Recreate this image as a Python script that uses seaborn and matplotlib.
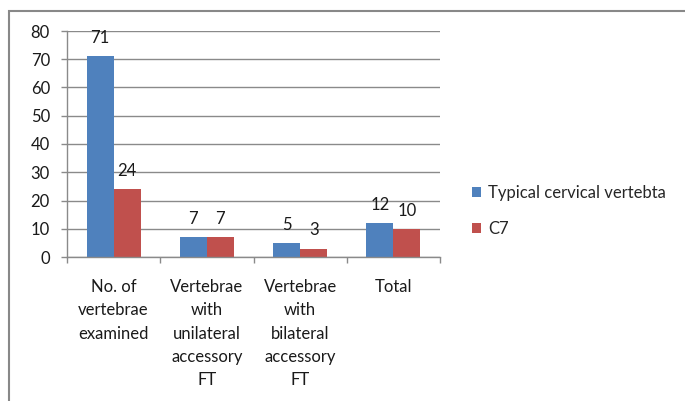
import matplotlib
matplotlib.use("Agg")
import matplotlib.pyplot as plt
from matplotlib.patches import Rectangle
import seaborn as sns
import pandas as pd

categories = [
    "No. of\nvertebrae\nexamined",
    "Vertebrae\nwith\nunilateral\naccessory\nFT",
    "Vertebrae\nwith\nbilateral\naccessory\nFT",
    "Total",
]
series_names = ["Typical cervical vertebta", "C7"]
typical_values = [71, 7, 5, 12]
c7_values = [24, 7, 3, 10]
y_ticks = [0, 10, 20, 30, 40, 50, 60, 70, 80]

colors = ["#4F81BD", "#C0504D"]
grey = "#8a8a8a"
text_color = "#1a1a1a"
fs = 12

df = pd.DataFrame({
    "category": categories * 2,
    "series": [series_names[0]] * len(categories) + [series_names[1]] * len(categories),
    "value": typical_values + c7_values,
})

sns.set_theme(style="white")
plt.rcParams["font.family"] = ["Lato", "DejaVu Sans"]

fig = plt.figure(figsize=(6.85, 4.01), dpi=100)
ax = fig.add_axes([67 / 685, 1 - 257 / 401, (440 - 67) / 685, (257 - 31) / 401])

sns.barplot(data=df, x="category", y="value", hue="series", order=categories,
            hue_order=series_names, palette=colors, width=0.58, gap=0,
            saturation=1, edgecolor="none", linewidth=0, ax=ax)

# value labels above each bar
for container in ax.containers:
    for bar in container:
        h = bar.get_height()
        ax.annotate(f"{h:g}", (bar.get_x() + bar.get_width() / 2, h),
                    xytext=(0, 9.5), textcoords="offset points",
                    ha="center", va="baseline", fontsize=fs, color=text_color)

ax.set_ylim(0, 80)
ax.set_xlim(-0.5, len(categories) - 0.5)
ax.set_yticks(y_ticks)
ax.set_xlabel("")
ax.set_ylabel("")
ax.yaxis.grid(True, color=grey, linewidth=1)
ax.set_axisbelow(True)

for side in ["top", "right"]:
    ax.spines[side].set_visible(False)
for side in ["left", "bottom"]:
    ax.spines[side].set_color(grey)
    ax.spines[side].set_linewidth(1)

ax.tick_params(axis="y", which="major", left=True, length=4.3, width=1,
               color=grey, pad=8, labelsize=fs, labelcolor=text_color)
ax.set_xticks(range(len(categories)))
ax.set_xticklabels(categories, linespacing=1.55)
ax.tick_params(axis="x", which="major", length=0, pad=16, labelsize=fs,
               labelcolor=text_color)
ax.set_xticks([i - 0.5 for i in range(len(categories) + 1)], minor=True)
ax.tick_params(axis="x", which="minor", bottom=True, length=4, width=1,
               color=grey)
for lab in ax.get_xticklabels():
    lab.set_verticalalignment("top")

handles, labels = ax.get_legend_handles_labels()
ax.legend(handles, labels, loc="center left",
          bbox_to_anchor=(472 / 685, 1 - 211 / 401),
          bbox_transform=fig.transFigure, frameon=False, fontsize=fs,
          handlelength=0.55, handleheight=0.55, handletextpad=0.4,
          labelspacing=1.2, borderpad=0, borderaxespad=0)

# chart frame (top and left edges visible)
fig.add_artist(Rectangle((8.5 / 685, -0.05), 1.2, 1 - 10.5 / 401 + 0.05,
                         transform=fig.transFigure, fill=False,
                         edgecolor="#888888", linewidth=1.5, clip_on=False))

fig.savefig("out.png", dpi=100)
